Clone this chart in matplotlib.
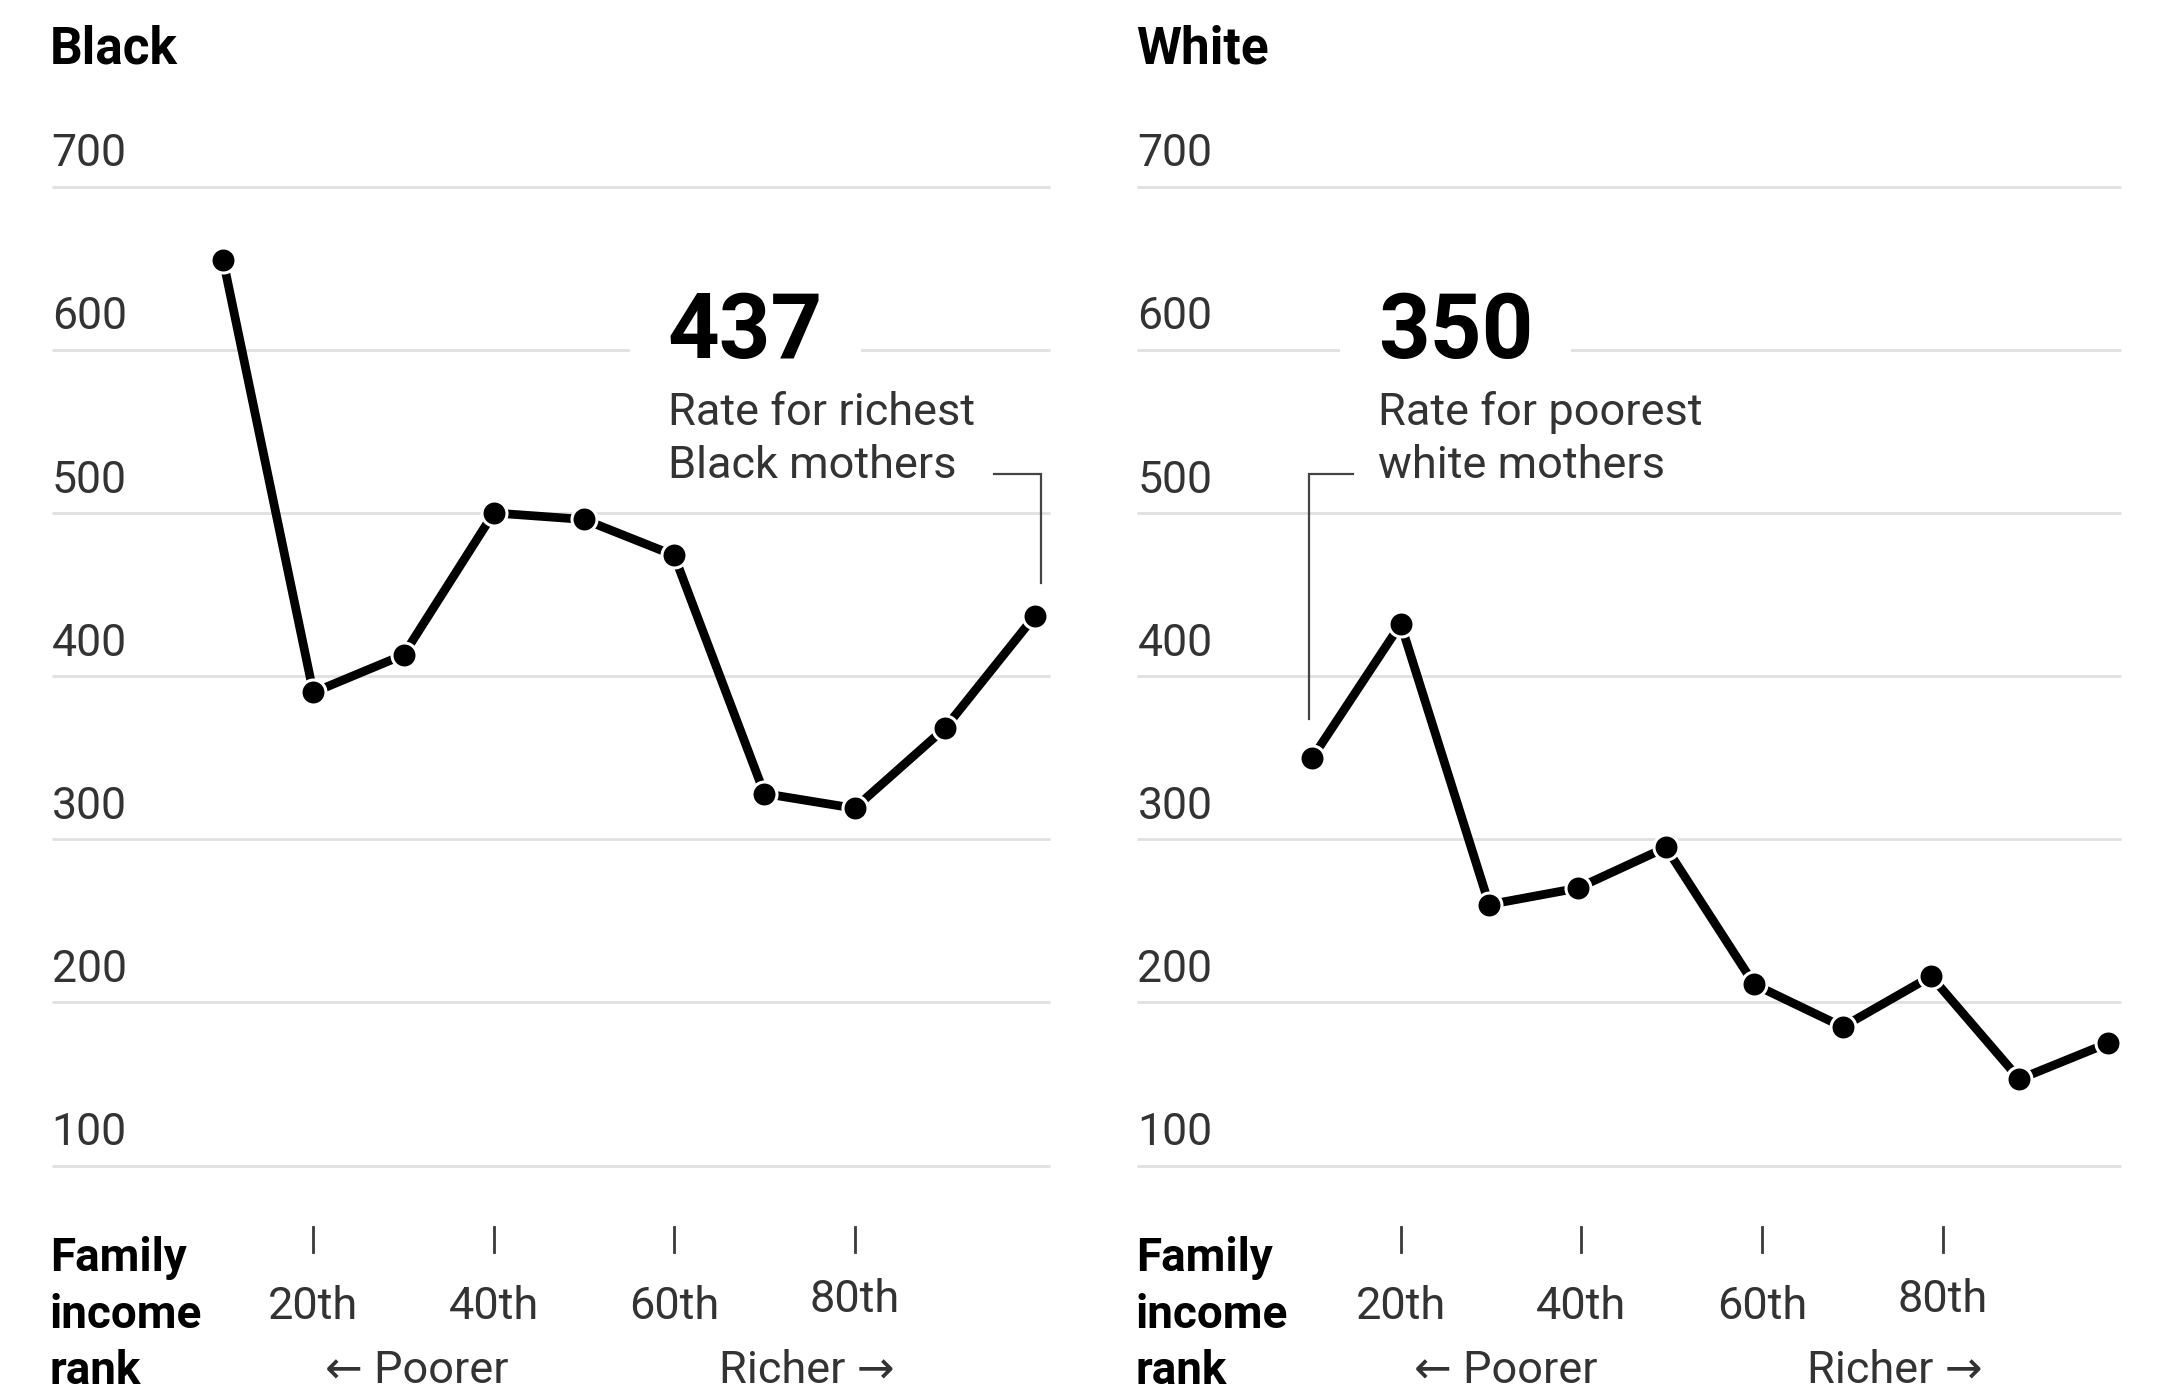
import matplotlib
matplotlib.use("Agg")
import matplotlib.pyplot as plt
from matplotlib import font_manager
import matplotlib.transforms as mtransforms

# ---------------- data ----------------
percentiles = [10, 20, 30, 40, 50, 60, 70, 80, 90, 100]
black_rate = [655, 390, 413, 500, 496, 474, 328, 319, 368, 437]
white_rate = [350, 432, 260, 270, 295, 211, 185, 216, 153, 175]
y_ticks = [100, 200, 300, 400, 500, 600, 700]
x_ticks = [20, 40, 60, 80]
x_tick_labels = ["20th", "40th", "60th", "80th"]
panel_titles = ["Black", "White"]
callout_numbers = ["437", "350"]
callout_text = [["Rate for richest", "Black mothers"],
                ["Rate for poorest", "white mothers"]]
axis_title = "Family\nincome\nrank"
poorer_label = "\u2190 Poorer"
richer_label = "Richer \u2192"

# ---------------- fonts ----------------
def pick(fams):
    for f in fams:
        try:
            font_manager.findfont(f, fallback_to_default=False)
            return f
        except Exception:
            pass
    return "DejaVu Sans"

BASE = pick(["Roboto", "Liberation Sans", "DejaVu Sans"])
FAM = [BASE, "DejaVu Sans"]
plt.rcParams["font.family"] = FAM

W, H = 2157, 1391
fig = plt.figure(figsize=(W / 100, H / 100), dpi=100)
fig.patch.set_facecolor("white")

TOP_PX, BOT_PX = 186.6, 1165.6
PX_PER_UNIT = (BOT_PX - TOP_PX) / 600.0

def yval(px):
    return 700 - (px - TOP_PX) / PX_PER_UNIT

panels = [
    dict(left=51.7, right=1050.3, xlim=(-9.0, 101.7), data=black_rate,
         callout_idx=9, text_x=59.3, lead_dx=0.7, lead_h=(95.5, 100.7), lead_gap=20,
         tick_scale=1.0, poorer_x=31.5, richer_x=74.7),
    dict(left=1137.4, right=2121.1, xlim=(-9.8, 101.5), data=white_rate,
         callout_idx=0, text_x=17.4, lead_dx=-0.4, lead_h=(14.6, 9.6), lead_gap=24,
         tick_scale=1.022, poorer_x=31.9, richer_x=75.9),
]

TXT = "#333333"
for i, p in enumerate(panels):
    ax = fig.add_axes([p["left"] / W, 1 - BOT_PX / H,
                       (p["right"] - p["left"]) / W, (BOT_PX - TOP_PX) / H])
    ax.set_xlim(*p["xlim"])
    ax.set_ylim(100, 700)
    for s in ax.spines.values():
        s.set_visible(False)
    ax.set_xticks([])
    ax.set_yticks([])
    ax.patch.set_alpha(0)

    # gridlines + y labels
    trans = mtransforms.blended_transform_factory(ax.transAxes, ax.transData)
    for yt in y_ticks:
        ax.plot([0, 1], [yt, yt], transform=trans, color="#e0e0e0", lw=2.0,
                zorder=0.5, clip_on=False, solid_capstyle="butt")
        ax.text(0, yt + 12.5, str(yt), transform=trans, ha="left", va="baseline",
                fontsize=32, color=TXT)

    # series
    ax.plot(percentiles, p["data"], color="black", lw=6.3, zorder=4,
            solid_joinstyle="round")
    ax.plot(percentiles, p["data"], ls="none", marker="o", ms=18,
            mfc="black", mec="white", mew=2.2, zorder=5)

    # callout
    ax.text(p["text_x"], yval(358), callout_numbers[i], ha="left", va="baseline",
            fontsize=65, fontweight="bold", color="black", zorder=3,
            bbox=dict(facecolor="white", edgecolor="none", pad=27))
    ax.text(p["text_x"], yval(425), callout_text[i][0], ha="left", va="baseline",
            fontsize=32.5, color=TXT, zorder=6)
    ax.text(p["text_x"], yval(478), callout_text[i][1], ha="left", va="baseline",
            fontsize=32.5, color=TXT, zorder=6)
    cx = percentiles[p["callout_idx"]] + p["lead_dx"]
    cy = p["data"][p["callout_idx"]]
    hy = yval(474)
    ax.plot([p["lead_h"][0], cx, cx], [hy, hy, cy + p["lead_gap"]],
            color="#444444", lw=1.6, zorder=3, solid_joinstyle="miter")

    # x ticks
    for xt, lab in zip(x_ticks, x_tick_labels):
        xpos = x_ticks[0] + (xt - x_ticks[0]) * p["tick_scale"]
        ax.plot([xpos, xpos], [yval(1227), yval(1252)], color="#3a3a3a", lw=2.0,
                clip_on=False)
        by = yval(1312) if lab == "80th" else yval(1319)
        ax.text(xpos, by, lab, ha="center", va="baseline", fontsize=32.5, color=TXT)
    ax.text(p["poorer_x"], yval(1383), poorer_label, ha="center", va="baseline",
            fontsize=32.5, color=TXT, family=FAM)
    ax.text(p["richer_x"], yval(1383), richer_label, ha="center", va="baseline",
            fontsize=32.5, color=TXT, family=FAM)

    # bottom-left axis title
    for j, line in enumerate(axis_title.split("\n")):
        fig.text(p["left"] / W - 0.0008, 1 - (1271 + j * 56.5) / H, line,
                 ha="left", va="baseline", fontsize=33, fontweight="bold",
                 color="black")

    # panel title
    fig.text(p["left"] / W - 0.0008, 1 - 63.5 / H, panel_titles[i], ha="left",
             va="baseline", fontsize=37, fontweight="bold", color="black")

fig.savefig("out.png", dpi=100, facecolor="white")
